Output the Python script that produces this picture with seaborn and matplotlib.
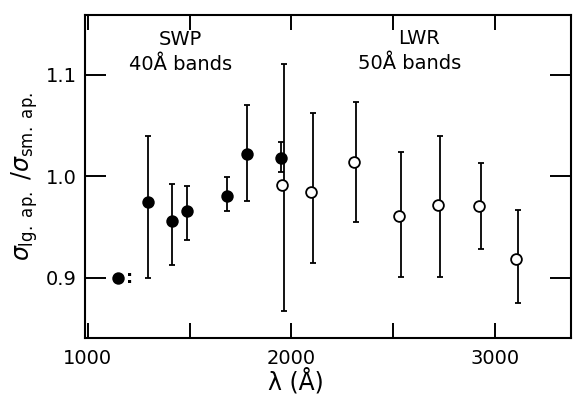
import numpy as np
import pandas as pd
import matplotlib
matplotlib.use("Agg")
import matplotlib.pyplot as plt
import seaborn as sns
from matplotlib.ticker import MultipleLocator, FormatStrFormatter

# SWP (filled) points: wavelength, ratio, error bar top / bottom
swp_wave = [1150, 1296, 1414, 1488, 1686, 1782, 1948]
swp_ratio = [0.900, 0.975, 0.956, 0.966, 0.981, 1.022, 1.018]
swp_top = [np.nan, 1.040, 0.993, 0.991, 0.999, 1.070, 1.034]
swp_bot = [np.nan, 0.900, 0.913, 0.937, 0.966, 0.976, 1.004]

# LWR (open) points
lwr_wave = [1953, 2096, 2308, 2528, 2720, 2921, 3103]
lwr_ratio = [0.992, 0.985, 1.014, 0.961, 0.972, 0.971, 0.919]
lwr_top = [1.111, 1.062, 1.073, 1.024, 1.040, 1.013, 0.967]
lwr_bot = [0.867, 0.915, 0.955, 0.901, 0.901, 0.928, 0.875]

swp = pd.DataFrame({"wave": swp_wave, "ratio": swp_ratio, "top": swp_top, "bot": swp_bot})
lwr = pd.DataFrame({"wave": lwr_wave, "ratio": lwr_ratio, "top": lwr_top, "bot": lwr_bot})

sns.set_theme(style="ticks")
plt.rcParams['font.family'] = ['DejaVu Sans']
plt.rcParams['mathtext.fontset'] = 'dejavusans'
plt.rcParams['text.color'] = 'black'
plt.rcParams['axes.labelcolor'] = 'black'
plt.rcParams['xtick.labelcolor'] = 'black'
plt.rcParams['ytick.labelcolor'] = 'black'

fig = plt.figure(figsize=(5.73, 3.96), dpi=100)
ax = fig.add_axes([0.148, 0.147, 0.849, 0.815])

# error bars
for d, off in ((swp, 0), (lwr, 10)):
    m = d["top"].notna()
    ax.errorbar(d["wave"][m] + off, d["ratio"][m],
                yerr=[d["ratio"][m] - d["bot"][m], d["top"][m] - d["ratio"][m]],
                fmt="none", ecolor="black", elinewidth=1.3, capsize=2.2, capthick=1.3, zorder=2)

sns.scatterplot(data=swp, x="wave", y="ratio", ax=ax, color="black", s=60,
                edgecolor="black", linewidth=1.2, zorder=3)
sns.scatterplot(data=lwr, x="wave", y="ratio", ax=ax, color="white", s=60,
                edgecolor="black", linewidth=1.3, zorder=3)

ax.text(1205, 0.900, ":", fontsize=13, ha="center", va="center", fontweight="bold")

ax.text(1455, 1.135, "SWP", fontsize=14, ha="center", va="center")
ax.text(1455, 1.110, "40Å bands", fontsize=14, ha="center", va="center")
ax.text(2625, 1.136, "LWR", fontsize=14, ha="center", va="center")
ax.text(2580, 1.111, "50Å bands", fontsize=14, ha="center", va="center")

ax.set_xlim(985, 3375)
ax.set_ylim(0.841, 1.159)
ax.xaxis.set_major_locator(MultipleLocator(1000))
ax.xaxis.set_minor_locator(MultipleLocator(500))
ax.yaxis.set_major_locator(MultipleLocator(0.1))
ax.yaxis.set_major_formatter(FormatStrFormatter('%.1f'))
ax.tick_params(which="both", direction="in", top=True, right=True, labelsize=14,
               width=1.4, color="black")
ax.tick_params(axis="x", which="both", length=11, pad=8)
ax.tick_params(axis="y", which="both", length=15, pad=6)
for s in ax.spines.values():
    s.set_linewidth(1.5)
    s.set_color("black")

ax.set_xlabel("λ (Å)", fontsize=17)
ax.xaxis.set_label_coords(0.434, -0.095)
ax.set_ylabel(r"$\sigma_{\rm lg.\ ap.}\ /\sigma_{\rm sm.\ ap.}$", fontsize=17, labelpad=4)

fig.savefig("out.png", dpi=100)
